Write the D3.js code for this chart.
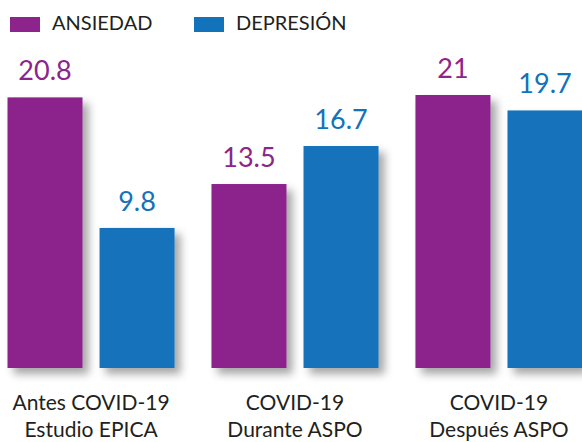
<!DOCTYPE html>
<html>
<head>
<meta charset="utf-8">
<script src="https://cdn.jsdelivr.net/npm/d3@7"></script>
<style>
    html, body { margin: 0; padding: 0; background: #fff; }
    svg { display: block; font-family: Lato, "Open Sans", sans-serif; }
</style>
</head>
<body>
<script>
    // data
    const categories = [
        ["Antes COVID-19", "Estudio EPICA"],
        ["COVID-19", "Durante ASPO"],
        ["COVID-19", "Después ASPO"]
    ];
    const series = ["ANSIEDAD", "DEPRESIÓN"];
    const ansiedad = [20.8, 13.5, 21];
    const depresion = [9.8, 16.7, 19.7];
    const valueLabels = [["20.8", "9.8"], ["13.5", "16.7"], ["21", "19.7"]];

    const colors = { "ANSIEDAD": "#8c248c", "DEPRESIÓN": "#1273bb" };
    const width = 582, height = 442;
    const baseline = 368;

    const svg = d3.select("body").append("svg")
        .attr("width", width)
        .attr("height", height);

    const defs = svg.append("defs");
    const shadow = defs.append("filter")
        .attr("id", "shadow")
        .attr("x", "-20%").attr("y", "-10%")
        .attr("width", "160%").attr("height", "130%");
    shadow.append("feDropShadow")
        .attr("dx", 6).attr("dy", 6)
        .attr("stdDeviation", 4)
        .attr("flood-color", "#000")
        .attr("flood-opacity", 0.35);

    const lineShadow = defs.append("filter")
        .attr("id", "lineShadow")
        .attr("x", "-5%").attr("y", "-200%")
        .attr("width", "110%").attr("height", "1000%");
    lineShadow.append("feDropShadow")
        .attr("dx", 0).attr("dy", 6)
        .attr("stdDeviation", 4)
        .attr("flood-color", "#000")
        .attr("flood-opacity", 0.35);

    const keys = categories.map(c => c.join(" "));
    const x0 = d3.scaleBand()
        .domain(keys)
        .range([7.5, 582.5])
        .paddingInner(0.181)
        .paddingOuter(0);

    const x1 = d3.scaleBand()
        .domain(series)
        .range([0, x0.bandwidth()])
        .paddingInner(0.185)
        .paddingOuter(0);

    const y = d3.scaleLinear()
        .domain([-2, 21])
        .range([baseline, 95]);

    const rows = keys.map((k, i) => ({
        key: k,
        lines: categories[i],
        values: [
            { s: "ANSIEDAD", v: ansiedad[i], label: valueLabels[i][0] },
            { s: "DEPRESIÓN", v: depresion[i], label: valueLabels[i][1] }
        ]
    }));

    // baseline
    svg.append("line")
        .attr("x1", 7).attr("x2", width)
        .attr("y1", baseline + 1.5).attr("y2", baseline + 1.5)
        .attr("stroke", "#231f20")
        .attr("stroke-width", 3)
        .attr("filter", "url(#lineShadow)");

    const groups = svg.selectAll(".group")
        .data(rows)
        .enter()
        .append("g")
        .attr("class", "group")
        .attr("transform", d => `translate(${x0(d.key)},0)`);

    groups.selectAll("rect")
        .data(d => d.values)
        .enter()
        .append("rect")
        .attr("x", d => x1(d.s))
        .attr("y", d => y(d.v))
        .attr("width", x1.bandwidth())
        .attr("height", d => baseline - y(d.v))
        .attr("fill", d => colors[d.s])
        .attr("filter", "url(#shadow)");

    groups.selectAll(".val")
        .data(d => d.values)
        .enter()
        .append("text")
        .attr("class", "val")
        .attr("x", d => x1(d.s) + x1.bandwidth() / 2)
        .attr("y", d => y(d.v) - 17)
        .attr("text-anchor", "middle")
        .attr("font-size", 27)
        .attr("fill", d => colors[d.s])
        .text(d => d.label);

    // category labels
    const cat = groups.append("text")
        .attr("text-anchor", "middle")
        .attr("font-size", 21)
        .attr("fill", "#231f20");
    cat.selectAll("tspan")
        .data(d => d.lines)
        .enter()
        .append("tspan")
        .attr("x", x0.bandwidth() / 2)
        .attr("y", (d, i) => 410 + i * 27)
        .text(d => d);

    // legend
    const legendX = [10, 194];
    const legend = svg.selectAll(".legend")
        .data(series)
        .enter()
        .append("g")
        .attr("class", "legend")
        .attr("transform", (d, i) => `translate(${legendX[i]},17)`);
    legend.append("rect")
        .attr("width", 30)
        .attr("height", 15)
        .attr("fill", d => colors[d]);
    legend.append("text")
        .attr("x", 42)
        .attr("y", 13)
        .attr("font-size", 20)
        .attr("fill", "#231f20")
        .text(d => d);
</script>
</body>
</html>
